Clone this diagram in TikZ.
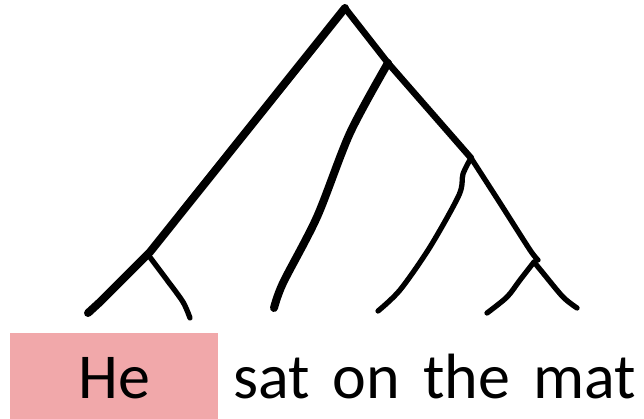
\documentclass[tikz,border=0pt]{standalone}
\usepackage{fontspec}
\setmainfont[WordSpace=1.6]{Carlito}
\usepackage{tikz}
\definecolor{hepink}{RGB}{241,168,170}

\begin{document}
\begin{tikzpicture}[x=1pt,y=-1pt,line cap=round,line join=round,
    trunk/.style={line width=8pt},
    limb/.style={line width=6.5pt},
    twig/.style={line width=5.3pt},
    word/.style={font=\fontsize{64}{70}\selectfont,inner sep=0pt,anchor=base}]
  \useasboundingbox (0,0) rectangle (644,419);
  % junctions of the tree
  \coordinate (root) at (345,8);
  \coordinate (jL) at (150,252);
  \coordinate (jA) at (388,63);
  \coordinate (jB) at (471,158);
  \coordinate (jC) at (534,262);
  % leaf ends
  \coordinate (l1) at (88,313);
  \coordinate (l2) at (190,318);
  \coordinate (l3) at (274,308);
  \coordinate (l4) at (378,311);
  \coordinate (l5) at (487,313);
  \coordinate (l6) at (577,308);
  % branches
  \draw[trunk] (root) -- (jL) -- (100,302) -- (l1);
  \draw[twig] plot[smooth] coordinates {(149,256) (167,280) (183,302) (l2)};
  \draw[limb] (root) -- (jA) -- (jB);
  \draw[trunk] plot[smooth] coordinates {(jA) (350,133) (317,217) (283,283) (l3)};
  \draw[twig] plot[smooth] coordinates {(jB) (500,203) (530,250) (538,260)};
  \draw[twig] plot[smooth] coordinates {(jB) (463,174) (459,195) (430,247) (400,290) (l4)};
  \draw[twig] plot[smooth] coordinates {(l5) (507,297) (520,280) (jC)};
  \draw[twig] plot[smooth] coordinates {(jC) (543,273) (563,297) (l6)};
  % words
  \node[fill=hepink,minimum width=208,minimum height=86,anchor=north west,inner sep=0pt] (hebox) at (10,333) {};
  \node[word] (he) at (114,398) {He};
  \node[word,anchor=base west] (rest) at (233,398) {sat on the mat};
\end{tikzpicture}
\end{document}
